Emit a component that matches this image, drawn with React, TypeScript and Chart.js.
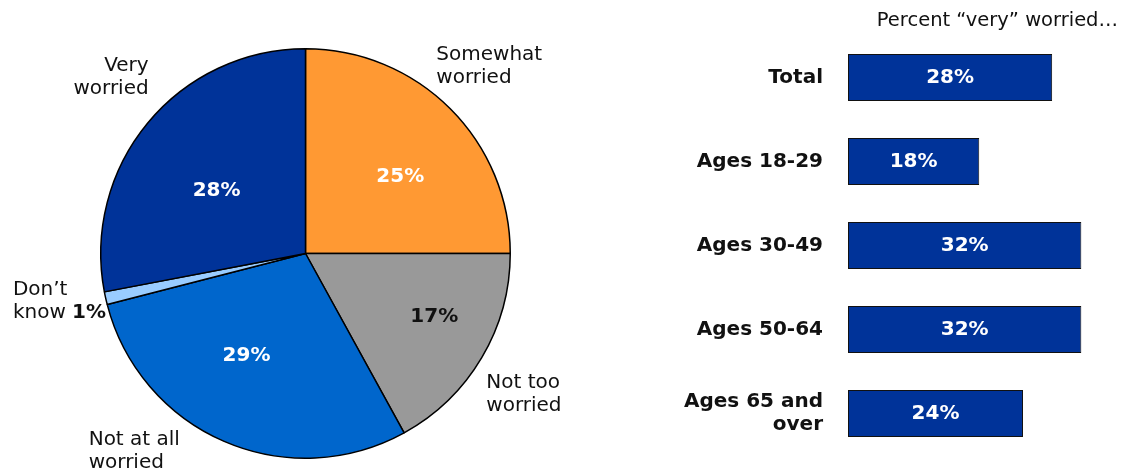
import React, { useEffect, useRef } from "react";
import { Chart, registerables } from "chart.js";

Chart.register(...registerables);

// ---------- data ----------
const pieCategories = ["Somewhat worried", "Not too worried", "Not at all worried", "Don’t know", "Very worried"];
const pieValues = [25, 17, 29, 1, 28];
const pieLabelLines = [["Somewhat", "worried"], ["Not too", "worried"], ["Not at all", "worried"], ["Don’t", "know"], ["Very", "worried"]];

const barCategories = ["Total", "Ages 18-29", "Ages 30-49", "Ages 50-64", "Ages 65 and over"];
const barValues = [28, 18, 32, 32, 24];
const barLabelLines = [["Total"], ["Ages 18-29"], ["Ages 30-49"], ["Ages 50-64"], ["Ages 65 and", "over"]];
const barSubtitle = "Percent “very” worried…";

// ---------- styles ----------
const pieColors = ["#FF9933", "#999999", "#0066CC", "#99CCFF", "#003399"];
const FONT = "'DejaVu Sans', Verdana, sans-serif";
const TEXT = "#111111";
// outer label anchors in radius units relative to center, with alignment
const outerLabelStyle = [
  { dx: 0.639, dy: -0.915, align: "left" },
  { dx: 0.883, dy: 0.69, align: "left" },
  { dx: -1.059, dy: 0.968, align: "left" },
  { dx: -1.429, dy: 0.232, align: "left" },
  { dx: -0.766, dy: -0.859, align: "right" },
];
// inner percent label anchors (radius units); null = drawn with outer label
const innerLabelStyle = [
  { dx: 0.463, dy: -0.376, color: "#ffffff" },
  { dx: 0.629, dy: 0.307, color: TEXT },
  { dx: -0.288, dy: 0.498, color: "#ffffff" },
  null,
  { dx: -0.434, dy: -0.307, color: "#ffffff" },
];

const pieLabelPlugin = {
  id: "pieLabels",
  afterDatasetsDraw(chart: any) {
    const ctx = chart.ctx;
    const meta = chart.getDatasetMeta(0);
    const arc0 = meta.data[0];
    const cx = arc0.x;
    const cy = arc0.y;
    const r = arc0.outerRadius;
    const lh = 23;
    ctx.save();
    ctx.textBaseline = "middle";
    pieValues.forEach((v, i) => {
      const o = outerLabelStyle[i];
      const lines = pieLabelLines[i];
      const x = cx + o.dx * r;
      const y0 = cy + o.dy * r - ((lines.length - 1) * lh) / 2;
      ctx.font = `20px ${FONT}`;
      ctx.fillStyle = TEXT;
      ctx.textAlign = o.align;
      lines.forEach((ln, k) => ctx.fillText(ln, x, y0 + k * lh));
      const inner = innerLabelStyle[i];
      if (inner) {
        ctx.font = `bold 20px ${FONT}`;
        ctx.fillStyle = inner.color;
        ctx.textAlign = "center";
        ctx.fillText(`${v}%`, cx + inner.dx * r, cy + inner.dy * r);
      } else {
        const last = lines[lines.length - 1];
        ctx.font = `20px ${FONT}`;
        const w = ctx.measureText(last + " ").width;
        ctx.font = `bold 20px ${FONT}`;
        ctx.fillStyle = TEXT;
        ctx.textAlign = "left";
        ctx.fillText(`${v}%`, x + w, y0 + (lines.length - 1) * lh);
      }
    });
    ctx.restore();
  },
};

const barLabelPlugin = {
  id: "barLabels",
  afterDatasetsDraw(chart: any) {
    const ctx = chart.ctx;
    const meta = chart.getDatasetMeta(0);
    const area = chart.chartArea;
    const lh = 23;
    ctx.save();
    ctx.textBaseline = "middle";
    meta.data.forEach((bar: any, i: number) => {
      const lines = barLabelLines[i];
      ctx.font = `bold 20px ${FONT}`;
      ctx.fillStyle = TEXT;
      ctx.textAlign = "right";
      const y0 = bar.y - ((lines.length - 1) * lh) / 2;
      lines.forEach((ln, k) => ctx.fillText(ln, area.left - 25, y0 + k * lh));
      ctx.fillStyle = "#ffffff";
      ctx.textAlign = "center";
      ctx.fillText(`${barValues[i]}%`, (bar.base + bar.x) / 2, bar.y);
    });
    ctx.font = `19.5px ${FONT}`;
    ctx.fillStyle = TEXT;
    ctx.textAlign = "right";
    ctx.fillText(barSubtitle, chart.width - 4, 21);
    ctx.restore();
  },
};

export default function App() {
  const pieRef = useRef<HTMLCanvasElement>(null);
  const barRef = useRef<HTMLCanvasElement>(null);

  useEffect(() => {
    const pie = new Chart(pieRef.current!, {
      type: "pie",
      data: {
        labels: pieCategories,
        datasets: [
          {
            data: pieValues,
            backgroundColor: pieColors,
            borderColor: "#000000",
            borderWidth: 1.5,
          },
        ],
      },
      options: {
        responsive: false,
        animation: false,
        layout: { padding: { left: 100, right: 109, top: 48, bottom: 15 } },
        plugins: { legend: { display: false }, tooltip: { enabled: false } },
      },
      plugins: [pieLabelPlugin],
    });

    const bar = new Chart(barRef.current!, {
      type: "bar",
      data: {
        labels: barCategories,
        datasets: [
          {
            data: barValues,
            backgroundColor: "#003399",
            borderColor: "#111111",
            borderWidth: 1,
            borderSkipped: false,
            barPercentage: 0.56,
            categoryPercentage: 1,
          },
        ],
      },
      options: {
        indexAxis: "y",
        responsive: false,
        animation: false,
        layout: { padding: { left: 228, right: 18.8, top: 35.5, bottom: 18.5 } },
        scales: {
          x: { display: false, min: 0, max: 35 },
          y: { display: false },
        },
        plugins: { legend: { display: false }, tooltip: { enabled: false } },
      },
      plugins: [barLabelPlugin],
    });

    return () => {
      pie.destroy();
      bar.destroy();
    };
  }, []);

  return (
    <div style={{ position: "fixed", left: 0, top: 0, width: 1122, height: 474, background: "#ffffff" }}>
      <canvas ref={pieRef} width={620} height={474} style={{ position: "absolute", left: 0, top: 0, width: 620, height: 474 }} />
      <canvas ref={barRef} width={502} height={474} style={{ position: "absolute", left: 620, top: 0, width: 502, height: 474 }} />
    </div>
  );
}
